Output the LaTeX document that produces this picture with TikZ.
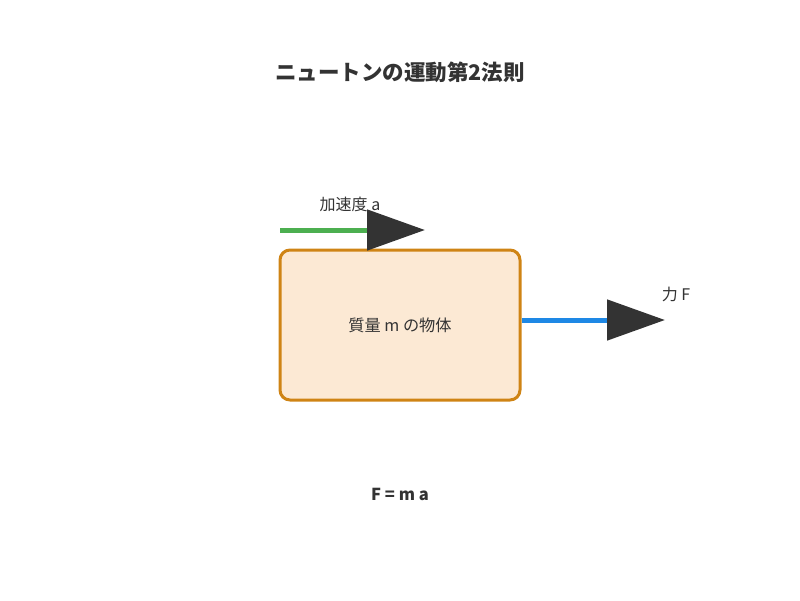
\documentclass[tikz,border=0pt]{standalone}
\usepackage{fontspec}
\setmainfont{Noto Sans CJK JP}
\usetikzlibrary{arrows.meta}
\definecolor{txt}{HTML}{333333}
\definecolor{accgreen}{HTML}{4CAF50}
\definecolor{forceblue}{HTML}{1E88E5}
\definecolor{boxfill}{HTML}{FCE9D4}
\definecolor{boxline}{HTML}{CF8415}
\definecolor{tipdark}{HTML}{333333}
\tikzset{
  lbl/.style={text=txt, font=\fontsize{16}{19}\selectfont, inner sep=0pt},
  body/.style={draw=boxline, fill=boxfill, line width=3pt, rounded corners=10pt,
    minimum width=240pt, minimum height=150pt, inner sep=0pt, text=txt,
    font=\fontsize{16.2}{19}\selectfont},
  vec/.style={line width=5pt, -{Triangle[length=58pt,width=40pt,color=tipdark]}}
}
\begin{document}
\begin{tikzpicture}[x=1pt,y=-1pt]
\useasboundingbox (0,0) rectangle (800,600);
\node[text=txt, font=\bfseries\fontsize{21.5}{25}\selectfont, inner sep=0pt] (title) at (400,72) {ニュートンの運動第2法則};
\node[body] (obj) at (400,325) {質量 m の物体};
\coordinate (a0) at (280,230);
\coordinate (a1) at (425,230);
\draw[vec, accgreen] (a0) -- (a1);
\node[lbl] (alabel) at (350,204) {加速度 a};
\coordinate (f1) at (665,320);
\draw[vec, forceblue] (obj.east |- f1) -- (f1);
\node[lbl] (flabel) at (676,294) {力 F};
\node[text=txt, font=\bfseries\fontsize{16.5}{19}\selectfont, inner sep=0pt] (eq) at (400,494) {F = m a};
\end{tikzpicture}
\end{document}
